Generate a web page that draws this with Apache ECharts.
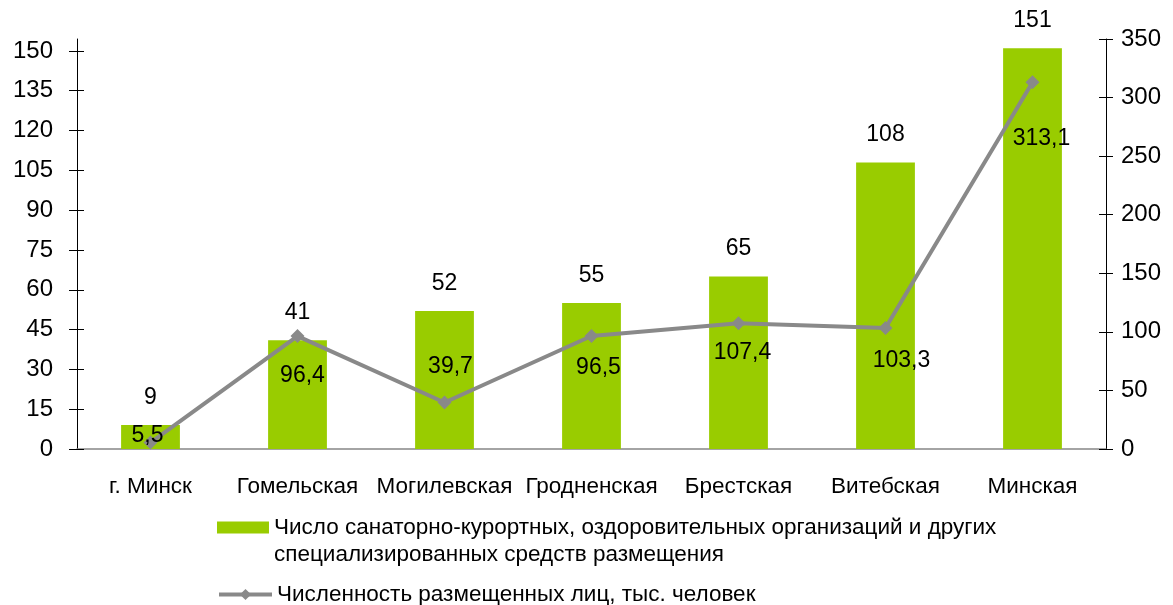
<!DOCTYPE html>
<html>
<head>
<meta charset="utf-8">
<script src="https://cdn.jsdelivr.net/npm/echarts@6/dist/echarts.min.js"></script>
</head>
<body style="margin:0">
<div id="main" style="width: 1173px;height:605px;"></div>
<script type="text/javascript">
    var regions = ['г. Минск', 'Гомельская', 'Могилевская', 'Гродненская', 'Брестская', 'Витебская', 'Минская'];
    var orgCount = [9, 41, 52, 55, 65, 108, 151];
    var guests = [5.5, 96.4, 39.7, 96.5, 107.4, 103.3, 313.1];
    var leftTicks = [0, 15, 30, 45, 60, 75, 90, 105, 120, 135, 150];

    var barName = 'Число санаторно-курортных, оздоровительных организаций и других специализированных средств размещения';
    var lineName = 'Численность размещенных лиц, тыс. человек';

    // ручное смещение подписей линии (как в исходной диаграмме)
    var lineLabelShift = [[-3, -7], [5, 40], [6, -36], [7, 32], [4, 29], [16, 33], [9, 56]];

    var font = 'Liberation Sans, Arial, sans-serif';
    var myChart = echarts.init(document.getElementById('main'));

    // вспомогательные оси только для засечек внутрь (засечки "крестом")
    function innerTicks(pos, max, interval, custom) {
        return {
            type: 'value',
            position: pos,
            min: 0,
            max: max,
            interval: interval,
            axisLine: { show: false },
            axisTick: { show: true, inside: true, length: 7, customValues: custom, lineStyle: { color: '#000' } },
            axisLabel: { show: false },
            splitLine: { show: false }
        };
    }

    var option = {
        animation: false,
        backgroundColor: '#fff',
        textStyle: { fontFamily: font, color: '#000' },
        grid: { left: 77, right: 67, top: 39, bottom: 156 },
        legend: [{
            data: [barName],
            left: 217,
            top: 514,
            padding: 0,
            itemWidth: 52,
            itemHeight: 39,
            itemGap: 0,
            // прямоугольник в верхней части значка, чтобы он стоял у первой строки
            icon: 'path://M0,0H52V12H0Z M0,39H0.01V39.01H0Z',
            formatter: function () {
                return 'Число санаторно-курортных, оздоровительных организаций и других\nспециализированных средств размещения';
            },
            textStyle: { fontSize: 22.5, color: '#000', fontFamily: font, lineHeight: 27 }
        }, {
            data: [lineName],
            left: 217,
            top: 583,
            padding: 0,
            itemWidth: 53,
            itemHeight: 14,
            lineStyle: { width: 4 },
            textStyle: { fontSize: 22.5, color: '#000', fontFamily: font }
        }],
        xAxis: {
            type: 'category',
            data: regions,
            axisLine: { lineStyle: { color: '#868686', width: 1.5 } },
            axisTick: { length: 7, lineStyle: { color: '#000' } },
            axisLabel: { fontSize: 22.5, color: '#000', margin: 26, interval: 0 }
        },
        yAxis: [{
            type: 'value',
            min: 0,
            max: 154.5,
            axisLine: { show: true, lineStyle: { color: '#000' } },
            axisTick: { show: true, length: 8, customValues: leftTicks, lineStyle: { color: '#000' } },
            axisLabel: { fontSize: 24, color: '#000', margin: 24, customValues: leftTicks },
            splitLine: { show: false }
        }, {
            type: 'value',
            min: 0,
            max: 350,
            interval: 50,
            axisLine: { show: true, lineStyle: { color: '#000' } },
            axisTick: { show: true, length: 7, lineStyle: { color: '#000' } },
            axisLabel: { fontSize: 24, color: '#000', margin: 15 },
            splitLine: { show: false }
        },
            innerTicks('left', 154.5, null, leftTicks),
            innerTicks('right', 350, 50, null)
        ],
        series: [{
            name: barName,
            type: 'bar',
            data: orgCount,
            barWidth: '40%',
            itemStyle: { color: '#99CC00' },
            label: { show: true, position: 'top', distance: 16, fontSize: 23, color: '#000' }
        }, {
            name: lineName,
            type: 'line',
            yAxisIndex: 1,
            z: 3,
            symbol: 'diamond',
            symbolSize: 14,
            lineStyle: { color: '#898989', width: 4 },
            itemStyle: { color: '#898989' },
            data: guests.map(function (v, i) {
                return {
                    value: v,
                    label: { offset: lineLabelShift[i] }
                };
            }),
            label: {
                show: true,
                position: 'inside',
                fontSize: 23,
                color: '#000',
                formatter: function (p) {
                    return String(p.value).replace('.', ',');
                }
            }
        }]
    };
    myChart.setOption(option);
</script>
</body>
</html>
